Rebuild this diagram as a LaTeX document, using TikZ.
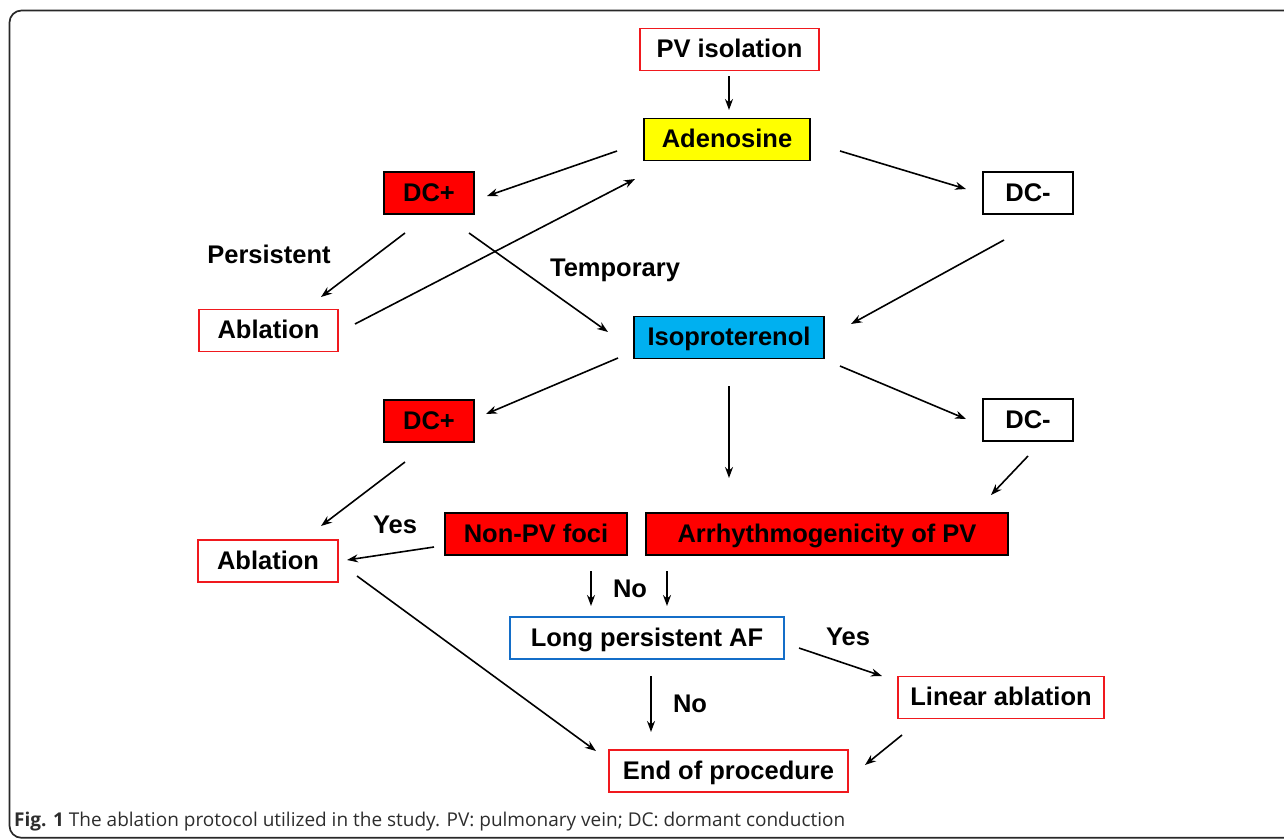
\documentclass[tikz,border=0pt]{standalone}
\usepackage{fontspec}
\setmainfont{Liberation Sans}
\newfontfamily\capfont{Open Sans}
\usetikzlibrary{arrows.meta}
\definecolor{boxred}{RGB}{255,0,0}
\definecolor{frred}{RGB}{240,25,30}
\definecolor{isoblue}{RGB}{0,176,240}
\definecolor{afblue}{RGB}{20,110,200}
\definecolor{adyellow}{RGB}{255,255,0}
\definecolor{framegray}{RGB}{40,40,40}
\definecolor{capgray}{RGB}{45,45,45}
\begin{document}
\begin{tikzpicture}[x=1pt,y=-1pt,
  every node/.style={font=\fontsize{25.5}{28}\selectfont\bfseries, inner sep=0pt},
  boxbase/.style={line width=1.8pt, minimum height=42pt, text height=20pt, text depth=4pt},
  fillbox/.style={boxbase, draw=black},
  redframe/.style={boxbase, draw=frred, fill=white},
  blackframe/.style={boxbase, draw=black, fill=white},
  arr/.style={line width=1.6pt, -{Stealth[length=11pt,width=8pt]}},
  lbl/.style={}
]
\useasboundingbox (0,0) rectangle (1284,839);
\draw[framegray, line width=1.7pt, rounded corners=12pt] (9.5,10.5) rectangle (1320,837.8);

% nodes
\node[redframe, minimum width=179pt] (pv) at (729.5,49.5) {PV isolation};
\node[fillbox, fill=adyellow, minimum width=166pt] (aden) at (727,139.5) {Adenosine};
\node[fillbox, fill=boxred, minimum width=90pt] (dcp1) at (429,193) {DC+};
\node[blackframe, minimum width=90pt] (dcm1) at (1028,193) {DC-};
\node[redframe, minimum width=139pt] (abl1) at (268.5,330.5) {Ablation};
\node[fillbox, fill=isoblue, minimum width=190pt] (iso) at (729,337.5) {Isoproterenol};
\node[fillbox, fill=boxred, minimum width=90pt] (dcp2) at (429,421) {DC+};
\node[blackframe, minimum width=90pt] (dcm2) at (1028,420) {DC-};
\node[fillbox, fill=boxred, minimum width=182pt] (npv) at (536,534) {Non-PV foci};
\node[fillbox, fill=boxred, minimum width=362pt] (arr) at (827,534) {Arrhythmogenicity of PV};
\node[redframe, minimum width=140pt] (abl2) at (268,561) {Ablation};
\node[boxbase, draw=afblue, fill=white, minimum width=274pt] (lpaf) at (647,638) {Long persistent AF};
\node[redframe, minimum width=206pt] (lin) at (1001,697.5) {Linear ablation};
\node[redframe, minimum width=239pt] (endp) at (728.5,771) {End of procedure};

% labels
\node[lbl] (lpers) at (269,254) {Persistent};
\node[lbl] (ltemp) at (615,270) {Temporary};
\node[lbl] (lyes1) at (395,525) {Yes};
\node[lbl] (lno1) at (630,589) {No};
\node[lbl] (lyes2) at (848,637) {Yes};
\node[lbl] (lno2) at (690,704) {No};

% connector end points
\coordinate (c1a) at (729,76);   \coordinate (c1b) at (729,110);
\coordinate (c2a) at (617,151);  \coordinate (c2b) at (487,196);
\coordinate (c3a) at (840,151);  \coordinate (c3b) at (966,189);
\coordinate (c4a) at (405,233);  \coordinate (c4b) at (321,297);
\coordinate (c5a) at (469,233);  \coordinate (c5b) at (608,332);
\coordinate (c6a) at (355,324);  \coordinate (c6b) at (635,179);
\coordinate (c7a) at (1004,240); \coordinate (c7b) at (851,324);
\coordinate (c8a) at (618,358);  \coordinate (c8b) at (486,414);
\coordinate (c9a) at (729,386);  \coordinate (c9b) at (729,478);
\coordinate (c10a) at (840,366); \coordinate (c10b) at (966,419);
\coordinate (c11a) at (405,462); \coordinate (c11b) at (321,526);
\coordinate (c12a) at (1028,456);\coordinate (c12b) at (991,495);
\coordinate (c13a) at (434,547); \coordinate (c13b) at (347,560);
\coordinate (c14a) at (357,576); \coordinate (c14b) at (596,751);
\coordinate (c15a) at (591,571); \coordinate (c15b) at (591,606);
\coordinate (c16a) at (667,571); \coordinate (c16b) at (667,606);
\coordinate (c17a) at (651,676); \coordinate (c17b) at (651,732);
\coordinate (c18a) at (799,648); \coordinate (c18b) at (882,676);
\coordinate (c19a) at (902,735); \coordinate (c19b) at (865,765);

\foreach \i in {1,...,19} \draw[arr] (c\i a) -- (c\i b);

% caption
\node[anchor=base west, text=capgray, font=\capfont\fontsize{19}{22}\selectfont] (cap) at (14,826)
  {{\bfseries Fig. 1} The ablation protocol utilized in the study. PV: pulmonary vein; DC: dormant conduction};
\end{tikzpicture}
\end{document}
